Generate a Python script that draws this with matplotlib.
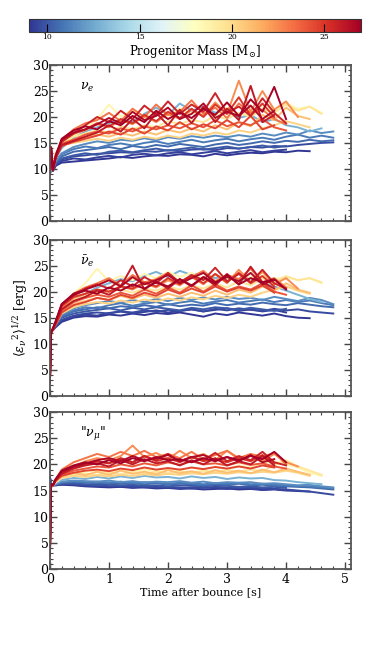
import matplotlib
matplotlib.use("Agg")
import matplotlib.pyplot as plt
import numpy as np

plt.rcParams['font.family'] = ['DejaVu Serif']
plt.rcParams['mathtext.fontset'] = 'dejavuserif'

#-------- data --------------------------------------------------#
# sample times after bounce [s]
t = [0.0, 0.02, 0.05, 0.1, 0.2, 0.4, 0.6, 0.8, 1.0, 1.2, 1.4, 1.6, 1.8, 2.0,
     2.2, 2.4, 2.6, 2.8, 3.0, 3.2, 3.4, 3.6, 3.8, 4.0, 4.2, 4.4, 4.6, 4.8]

# progenitor masses [Msun], one per model line
masses = [9.0, 9.3, 9.6, 10.0, 10.5, 11.0, 11.6, 12.8, 18.6, 19.5, 20.3,
          21.0, 22.5, 23.2, 24.0, 24.6, 25.0, 25.6, 26.0, 26.6, 27.0]

# rms energy, nu_e
nue = [
    [9.0, 10.2, 9.6, 10.6, 11.2, 11.4, 11.6, 11.8, 12.0, 12.3, 12.1, 12.4, 12.6, 12.5, 12.8, 12.7, 12.4, 12.9, 12.6, 12.9, 13.1, 13.0, 13.3, 13.2, 13.5, 13.4],
    [9.0, 10.3, 9.6, 10.7, 11.5, 12.0, 11.8, 12.2, 12.5, 12.2, 12.7, 12.9, 12.6, 13.0, 13.2, 12.8, 13.1, 13.4, 13.0, 13.3, 13.6, 13.2, 13.5, 13.7],
    [9.0, 10.4, 9.7, 10.9, 11.8, 12.4, 12.6, 12.9, 13.0, 13.2, 13.1, 13.4, 13.3, 13.6, 13.4, 13.7, 13.8, 13.6, 14.0, 13.9, 14.2, 14.1, 14.4, 14.3, 14.6, 14.8, 15.0, 15.1],
    [9.0, 10.6, 9.8, 11.0, 12.0, 12.6, 13.0, 12.7, 13.3, 13.5, 13.2, 13.6, 13.9, 13.5, 13.8, 14.1, 13.7, 14.0, 14.3, 13.9, 14.2, 14.5, 14.1, 14.4],
    [9.0, 10.8, 9.9, 11.2, 12.4, 13.3, 13.6, 13.9, 14.2, 13.8, 14.4, 14.1, 14.6, 14.3, 14.8, 14.5, 14.2, 14.7, 15.0, 14.6, 14.9, 15.3, 15.0, 15.4, 15.2, 15.6, 15.3, 15.5],
    [9.0, 10.9, 10.0, 11.4, 12.8, 13.8, 14.3, 14.0, 14.6, 14.9, 14.5, 15.0, 15.3, 14.8, 15.2, 15.6, 15.1, 15.5, 15.8, 15.3, 15.7, 16.0, 15.6, 16.2, 16.6, 16.0, 16.4, 16.0],
    [9.0, 11.0, 10.0, 11.6, 13.0, 14.2, 14.8, 15.3, 15.0, 15.6, 15.4, 15.9, 15.5, 16.1, 15.8, 16.3, 16.0, 16.4, 16.1, 16.5, 16.2, 16.8, 16.4, 17.0, 16.6, 17.4, 16.9, 17.2],
    [9.0, 11.4, 10.1, 12.0, 14.0, 16.0, 17.2, 18.0, 18.8, 19.5, 19.0, 20.6, 21.8, 20.4, 22.6, 21.2, 22.0, 20.8, 21.5, 19.8, 20.4, 19.0, 19.6, 18.4, 18.0, 17.2, 17.8],
    [9.0, 11.5, 10.1, 12.2, 14.6, 16.4, 17.8, 19.6, 22.4, 20.0, 21.4, 19.8, 21.0, 20.2, 21.6, 20.6, 21.2, 20.0, 21.8, 20.4, 21.0, 22.2, 21.4, 22.6, 21.6, 22.0, 20.8],
    [9.0, 12.0, 10.2, 12.5, 15.0, 16.2, 16.8, 17.4, 17.0, 18.2, 17.6, 18.4, 18.0, 19.2, 18.6, 19.4, 19.0, 20.2, 19.6, 20.8, 20.0, 21.6, 20.8, 22.4, 21.2, 22.0, 20.6],
    [9.0, 12.2, 10.2, 12.6, 14.6, 15.0, 15.4, 15.8, 15.4, 16.0, 15.6, 16.2, 15.8, 16.4, 16.0, 16.8, 16.4, 17.0, 16.6, 17.4, 17.0, 17.8, 18.4, 19.2, 18.6, 18.0],
    [9.0, 12.4, 10.2, 12.8, 15.0, 15.6, 16.0, 16.6, 16.2, 16.9, 16.4, 17.2, 16.6, 17.5, 17.0, 17.8, 17.2, 18.4, 17.6, 19.0, 18.2, 20.4, 19.4, 21.8, 20.2, 19.6],
    [9.0, 12.8, 10.0, 13.0, 15.2, 16.8, 17.4, 18.6, 18.0, 19.4, 18.6, 20.2, 19.0, 20.6, 19.6, 21.4, 20.2, 22.8, 20.6, 27.0, 21.0, 25.0, 21.4, 23.0, 20.0],
    [9.0, 13.0, 10.0, 12.6, 15.6, 17.6, 18.8, 19.4, 20.8, 19.2, 21.6, 20.0, 22.4, 20.4, 21.0, 23.2, 20.6, 21.8, 19.8, 22.6, 20.8, 21.4, 19.6, 18.6],
    [9.0, 13.4, 9.9, 12.0, 14.8, 15.6, 16.6, 17.2, 16.8, 17.8, 17.2, 18.2, 17.6, 18.4, 17.8, 18.8, 18.0, 19.4, 18.2, 19.0, 18.4, 19.6, 18.0, 17.4],
    [9.0, 13.6, 9.9, 12.2, 14.4, 15.2, 15.8, 16.4, 17.2, 16.6, 17.8, 16.8, 18.2, 17.4, 19.0, 17.6, 18.6, 17.8, 19.4, 18.0, 20.2, 17.6, 18.4],
    [9.0, 13.8, 9.8, 12.4, 15.4, 16.8, 17.6, 18.8, 18.2, 19.6, 18.8, 20.4, 19.2, 21.0, 19.8, 21.6, 20.0, 22.4, 20.6, 23.8, 20.2, 22.6, 20.0],
    [9.0, 13.9, 9.8, 12.4, 15.2, 16.8, 18.4, 20.0, 19.0, 21.2, 19.6, 22.2, 20.4, 23.0, 20.6, 22.4, 21.0, 24.6, 20.8, 22.0, 20.2, 23.6, 20.8, 18.8],
    [9.0, 14.0, 9.8, 12.2, 14.6, 15.4, 16.2, 17.0, 18.4, 17.2, 19.6, 17.8, 20.8, 18.4, 21.4, 18.8, 22.0, 19.0, 21.6, 19.4, 26.0, 19.0, 20.4],
    [9.0, 14.1, 9.8, 12.4, 15.6, 17.0, 17.6, 18.6, 19.8, 18.8, 21.0, 19.4, 20.2, 21.8, 19.6, 20.6, 22.6, 19.8, 21.0, 20.2, 22.2, 19.6, 21.2],
    [9.0, 14.2, 9.8, 12.6, 15.8, 17.4, 18.2, 17.6, 19.2, 18.4, 20.2, 19.0, 21.2, 19.6, 20.8, 19.8, 21.6, 20.4, 22.8, 20.2, 23.4, 21.0, 25.8, 19.6],
]

# rms energy, anti nu_e
nuebar = [
    [10.0, 12.2, 12.6, 13.2, 14.2, 15.0, 15.3, 15.2, 15.6, 15.4, 15.8, 15.5, 15.9, 15.7, 16.0, 15.6, 15.2, 15.8, 15.5, 16.0, 15.7, 15.4, 15.8, 15.3, 15.0, 14.9],
    [10.0, 12.2, 12.7, 13.3, 14.4, 15.2, 15.6, 15.4, 15.9, 16.2, 15.8, 16.1, 16.4, 16.0, 16.3, 16.6, 16.2, 16.5, 16.8, 16.3, 16.6, 16.2, 16.5, 16.0],
    [10.0, 12.3, 12.8, 13.4, 14.6, 15.4, 15.8, 16.0, 15.8, 16.2, 16.0, 16.4, 16.1, 16.5, 16.3, 16.6, 16.2, 16.7, 16.4, 16.8, 16.5, 16.3, 16.7, 16.4, 16.6, 16.2, 16.0, 15.8],
    [9.0, 12.3, 12.8, 13.5, 15.0, 15.8, 16.2, 16.5, 16.8, 16.4, 16.9, 16.6, 17.0, 16.7, 16.4, 16.9, 16.6, 17.0, 16.8, 16.5, 16.9, 16.6, 16.3, 16.7],
    [9.0, 12.4, 12.9, 13.6, 15.2, 16.2, 16.6, 17.0, 16.8, 17.2, 17.0, 17.4, 17.1, 17.6, 17.2, 17.5, 17.3, 17.8, 17.4, 17.7, 17.5, 17.9, 17.6, 17.4, 17.8, 17.5, 17.2, 17.0],
    [9.0, 12.4, 12.9, 13.7, 15.4, 16.4, 17.0, 16.8, 17.4, 17.8, 17.3, 17.7, 18.0, 17.5, 17.9, 18.2, 17.7, 18.1, 18.4, 17.9, 18.2, 18.5, 18.0, 18.4, 18.0, 18.3, 17.8, 17.4],
    [8.0, 12.4, 13.0, 13.8, 15.6, 16.8, 17.4, 17.8, 18.2, 17.9, 18.4, 18.0, 18.6, 18.2, 18.8, 18.4, 18.9, 18.5, 19.0, 18.6, 18.8, 18.4, 19.0, 18.6, 18.2, 18.8, 18.4, 17.6],
    [7.0, 12.5, 13.0, 14.0, 16.2, 18.2, 19.6, 20.8, 21.6, 22.4, 22.0, 23.0, 23.8, 22.8, 24.0, 23.2, 23.6, 22.6, 23.0, 22.2, 22.6, 21.6, 21.0, 20.2, 19.4, 18.6, 18.0],
    [6.0, 12.5, 13.1, 14.2, 16.8, 19.6, 21.6, 24.4, 22.0, 23.0, 22.2, 23.4, 22.6, 23.8, 22.8, 23.6, 22.4, 23.2, 22.6, 23.4, 22.8, 23.0, 22.4, 22.8, 22.2, 22.6, 21.6],
    [5.0, 12.4, 13.0, 14.0, 16.4, 18.4, 19.2, 19.8, 20.0, 20.4, 19.8, 20.6, 20.2, 21.0, 20.4, 21.2, 20.6, 21.6, 20.8, 22.0, 21.2, 22.6, 21.8, 23.0, 22.2, 22.6, 21.8],
    [4.5, 12.3, 12.9, 13.8, 15.8, 17.0, 17.6, 18.0, 17.7, 18.3, 17.9, 18.5, 18.1, 18.7, 18.3, 18.9, 18.5, 19.2, 18.8, 19.4, 19.0, 19.8, 20.4, 21.0, 20.2, 19.6],
    [4.0, 12.3, 12.9, 13.8, 16.0, 17.6, 18.2, 18.8, 18.4, 19.2, 18.6, 19.4, 18.8, 19.6, 19.0, 19.8, 19.2, 20.2, 19.4, 20.4, 19.8, 21.0, 20.2, 21.6, 20.4, 19.8],
    [3.5, 12.3, 12.9, 14.0, 16.8, 18.8, 19.6, 20.4, 20.0, 21.0, 20.4, 21.6, 20.8, 22.2, 21.2, 22.8, 21.4, 23.4, 21.6, 24.2, 21.8, 23.8, 21.4, 22.6, 20.6],
    [3.2, 12.3, 12.9, 14.2, 17.4, 19.6, 20.8, 21.6, 22.6, 21.2, 23.2, 21.8, 22.4, 23.6, 21.6, 22.8, 24.0, 22.0, 23.2, 22.4, 24.4, 21.8, 22.6, 20.8],
    [3.0, 12.2, 12.8, 13.8, 16.4, 18.0, 18.8, 19.4, 19.0, 19.8, 19.2, 20.4, 19.6, 20.8, 19.8, 21.2, 20.0, 21.4, 20.2, 21.0, 20.4, 21.6, 20.0, 19.4],
    [3.0, 12.2, 12.8, 13.7, 16.0, 17.4, 18.0, 18.8, 18.4, 19.4, 18.8, 19.8, 19.2, 20.4, 19.6, 20.6, 19.8, 21.0, 20.0, 20.8, 20.2, 21.2, 19.8],
    [2.8, 12.2, 12.8, 14.2, 17.2, 19.0, 19.6, 20.4, 20.0, 21.0, 20.6, 21.8, 21.0, 22.6, 21.4, 23.0, 21.6, 23.4, 21.8, 23.6, 21.6, 23.0, 21.0],
    [2.7, 12.2, 12.8, 14.2, 17.4, 19.2, 20.6, 21.4, 20.6, 22.2, 21.0, 22.8, 21.6, 23.6, 21.8, 23.2, 22.2, 24.6, 22.0, 23.4, 21.8, 24.2, 21.6, 20.6],
    [2.6, 12.1, 12.7, 14.0, 16.6, 18.2, 19.0, 20.2, 19.4, 21.0, 25.0, 20.4, 22.0, 20.6, 22.4, 21.0, 22.8, 21.2, 23.4, 21.4, 24.8, 21.8, 20.6],
    [2.5, 12.1, 12.8, 14.3, 17.6, 19.6, 20.4, 21.2, 22.2, 21.0, 22.8, 21.4, 22.2, 23.2, 21.6, 22.6, 23.6, 21.8, 22.8, 22.0, 23.6, 21.4, 22.2],
    [2.5, 12.2, 12.9, 14.4, 17.6, 19.4, 20.2, 19.6, 20.8, 20.2, 21.4, 20.6, 21.8, 21.0, 22.4, 21.2, 22.8, 21.6, 23.2, 21.4, 22.6, 21.8, 22.4, 20.4],
]

# rms energy, heavy-lepton "nu_mu"
numu = [
    [17.5, 16.4, 16.0, 16.0, 16.1, 16.0, 15.8, 15.7, 15.6, 15.7, 15.5, 15.6, 15.4, 15.5, 15.3, 15.4, 15.2, 15.3, 15.4, 15.2, 15.3, 15.1, 15.2, 15.0, 14.9, 14.8],
    [17.5, 16.4, 16.0, 16.0, 16.2, 16.1, 15.9, 16.0, 15.8, 15.7, 15.9, 15.6, 15.7, 15.5, 15.6, 15.4, 15.6, 15.5, 15.3, 15.5, 15.4, 15.2, 15.3, 15.1],
    [17.5, 16.4, 16.0, 16.1, 16.3, 16.2, 16.0, 15.9, 15.8, 15.9, 15.7, 15.8, 15.6, 15.7, 15.5, 15.6, 15.5, 15.7, 15.6, 15.5, 15.6, 15.4, 15.3, 15.2, 15.0, 14.8, 14.5, 14.2],
    [17.0, 16.3, 16.0, 16.1, 16.3, 16.4, 16.2, 16.1, 16.2, 16.0, 16.1, 15.9, 16.0, 15.8, 16.0, 15.9, 15.8, 16.0, 15.9, 15.7, 15.8, 15.6, 15.7, 15.5],
    [17.0, 16.3, 16.0, 16.2, 16.5, 16.6, 16.5, 16.4, 16.5, 16.3, 16.4, 16.2, 16.4, 16.1, 16.3, 16.2, 16.0, 16.2, 16.1, 16.3, 16.0, 16.1, 15.9, 15.8, 15.7, 15.6, 15.4, 15.2],
    [16.8, 16.3, 16.0, 16.2, 16.6, 16.8, 16.6, 16.7, 16.5, 16.7, 16.4, 16.6, 16.5, 16.3, 16.5, 16.4, 16.2, 16.4, 16.3, 16.4, 16.2, 16.3, 16.1, 16.0, 15.9, 15.8, 15.6, 15.4],
    [16.5, 16.2, 16.0, 16.3, 16.7, 16.9, 16.8, 16.7, 16.9, 16.6, 16.8, 16.5, 16.7, 16.6, 16.8, 16.5, 16.7, 16.4, 16.6, 16.5, 16.6, 16.3, 16.4, 16.2, 16.0, 16.1, 15.8, 15.6],
    [16.0, 16.1, 16.0, 16.4, 17.0, 17.4, 17.2, 17.6, 17.3, 17.7, 17.4, 17.8, 17.5, 17.6, 17.3, 17.7, 17.4, 17.6, 17.2, 17.5, 17.3, 17.4, 17.0, 16.9, 16.6, 16.4, 16.2],
    [8.0, 16.0, 16.0, 16.6, 17.4, 18.2, 18.6, 18.8, 18.4, 18.9, 18.6, 19.0, 18.7, 19.2, 18.8, 19.4, 18.9, 19.6, 19.0, 19.8, 19.4, 20.2, 20.6, 20.0, 19.4, 18.4, 17.8],
    [6.0, 16.0, 16.0, 16.8, 17.6, 18.0, 18.2, 18.0, 18.4, 18.1, 18.5, 18.2, 18.6, 18.3, 18.7, 18.4, 18.8, 18.5, 18.9, 18.6, 19.0, 18.7, 19.8, 20.8, 19.6, 18.8, 18.0],
    [5.5, 16.0, 16.0, 16.7, 17.4, 17.8, 17.6, 17.9, 17.7, 18.0, 17.8, 18.1, 17.9, 18.2, 18.0, 18.3, 18.1, 18.4, 18.2, 18.5, 18.3, 18.6, 18.4, 18.8, 18.4, 17.8],
    [5.0, 16.0, 16.0, 16.8, 17.8, 18.4, 17.9, 18.6, 18.0, 18.8, 18.2, 18.6, 18.1, 18.9, 18.3, 18.7, 18.2, 18.9, 18.4, 18.8, 18.3, 19.0, 18.5, 19.2, 18.6, 18.0],
    [4.0, 16.1, 16.0, 17.0, 18.4, 19.6, 20.6, 21.2, 20.8, 21.6, 23.6, 21.4, 22.2, 21.0, 22.6, 21.2, 22.0, 20.8, 22.6, 21.0, 21.8, 20.6, 22.0, 20.4, 19.6],
    [3.2, 16.2, 16.0, 17.2, 19.0, 20.4, 21.2, 22.0, 21.4, 22.4, 21.6, 22.6, 21.4, 22.0, 21.2, 22.4, 21.0, 21.8, 22.6, 21.2, 22.0, 21.4, 22.2, 20.0],
    [3.5, 16.1, 16.0, 16.9, 18.0, 18.8, 19.2, 19.6, 19.4, 20.0, 19.6, 20.2, 19.8, 20.4, 19.9, 20.6, 20.0, 20.2, 19.8, 20.4, 19.9, 20.2, 19.6, 19.2],
    [3.0, 16.1, 16.0, 16.9, 17.8, 18.4, 18.8, 19.0, 18.7, 19.2, 18.9, 19.4, 19.0, 19.3, 19.0, 19.4, 19.1, 19.5, 19.2, 19.6, 19.2, 19.8, 19.4],
    [3.0, 16.2, 16.0, 17.1, 18.6, 19.6, 20.0, 20.6, 20.2, 21.0, 20.4, 21.6, 20.6, 21.2, 20.4, 21.4, 20.6, 21.0, 20.4, 21.2, 20.6, 21.8, 20.2],
    [2.7, 16.2, 16.0, 17.1, 18.4, 19.4, 20.0, 20.6, 20.2, 21.2, 20.4, 21.6, 20.8, 22.0, 20.6, 21.4, 20.8, 22.2, 20.6, 21.6, 20.8, 22.4, 20.4, 19.8],
    [2.8, 16.2, 16.0, 17.0, 18.2, 19.2, 19.8, 20.2, 19.6, 20.8, 20.0, 21.0, 20.2, 20.6, 19.8, 20.8, 20.0, 21.2, 19.8, 20.6, 20.0, 21.6, 19.8],
    [2.5, 16.2, 16.0, 17.2, 18.6, 19.6, 20.2, 20.8, 21.2, 20.6, 21.6, 20.8, 21.2, 21.8, 20.6, 21.4, 21.8, 20.8, 21.4, 20.6, 21.8, 20.4, 21.0],
    [2.5, 16.2, 16.0, 17.2, 18.8, 19.8, 20.4, 20.0, 20.8, 20.2, 21.2, 20.6, 21.4, 20.8, 21.0, 20.4, 21.2, 20.6, 21.4, 20.8, 21.6, 21.0, 22.4, 20.4],
]

panels = [nue, nuebar, numu]
panel_labels = [r'$\nu_e$', r'$\bar{\nu}_e$', r'"$\nu_\mu$"']

#-------- figure ---------------------------------------------#
fig = plt.figure(figsize=(3.9, 6.51), dpi=100)
cmap = plt.get_cmap('RdYlBu_r')
norm = matplotlib.colors.Normalize(vmin=9, vmax=27)

ax_boxes = [[0.128, 0.661, 0.772, 0.239],
            [0.128, 0.392, 0.772, 0.240],
            [0.128, 0.126, 0.772, 0.241]]

axes = []
for i, data in enumerate(panels):
    ax = fig.add_axes(ax_boxes[i])
    for m, y in zip(masses, data):
        ax.plot(t[:len(y)], y, color=cmap(norm(m)), lw=1.4)
    ax.set_xlim(0, 5.1)
    ax.set_ylim(0, 30)
    ax.set_yticks([0, 5, 10, 15, 20, 25, 30])
    ax.set_xticks([0, 1, 2, 3, 4, 5])
    ax.xaxis.set_minor_locator(matplotlib.ticker.MultipleLocator(0.2))
    ax.yaxis.set_minor_locator(matplotlib.ticker.MultipleLocator(1))
    ax.tick_params(which='both', direction='in', top=True, right=True,
                   labelsize=9, color='#444444')
    ax.tick_params(axis='y', pad=1)
    ax.tick_params(axis='x', pad=3)
    ax.tick_params(which='major', length=5, width=1.0)
    ax.tick_params(which='minor', length=2.5, width=0.8)
    for sp in ax.spines.values():
        sp.set_color('#555555')
        sp.set_linewidth(1.3)
    ax.text(0.1, 0.84, panel_labels[i], transform=ax.transAxes, fontsize=9)
    if i < 2:
        ax.set_xticklabels([])
    axes.append(ax)

axes[1].set_ylabel(r'$\langle {\epsilon_\nu}^2 \rangle^{1/2}$ [erg]', fontsize=9, labelpad=2)
axes[2].set_xlabel('Time after bounce [s]', fontsize=8, labelpad=1)

# colorbar on top
cax = fig.add_axes([0.0744, 0.9508, 0.8513, 0.020])
sm = matplotlib.cm.ScalarMappable(norm=norm, cmap=cmap)
cb = fig.colorbar(sm, cax=cax, orientation='horizontal')
cb.set_ticks([10, 15, 20, 25])
cb.ax.tick_params(direction='in', labelsize=5.5, length=6, width=0.8, pad=1)
cb.outline.set_edgecolor('#333333')
cb.set_label(r'Progenitor Mass [M$_{\odot}$]', fontsize=8.5, labelpad=1)

fig.savefig('out.png', dpi=100)
